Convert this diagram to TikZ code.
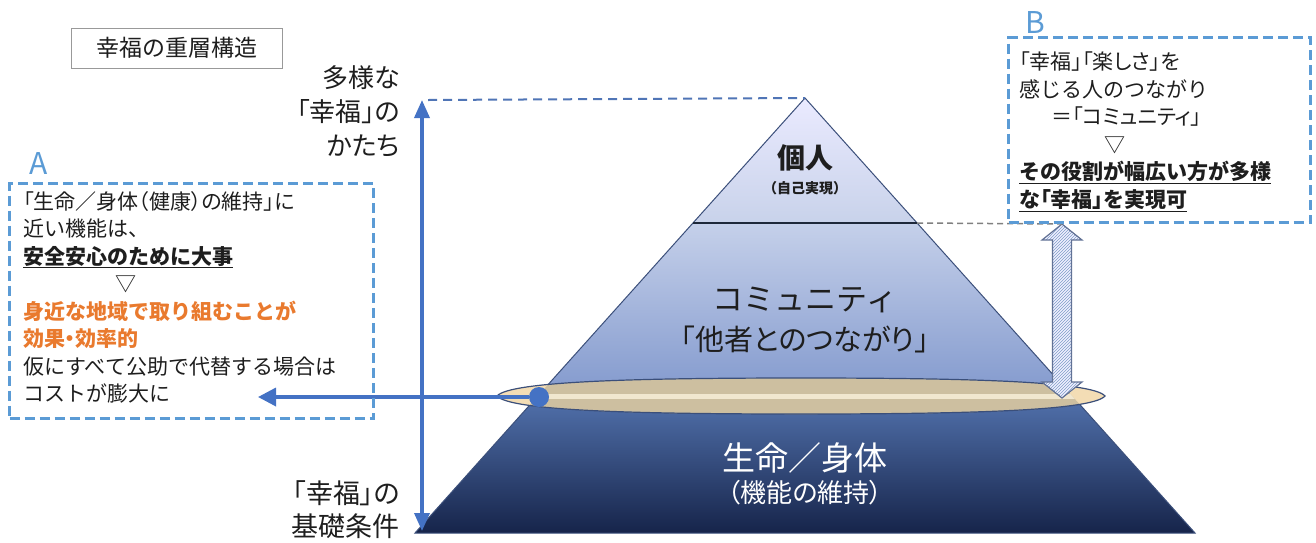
\documentclass[tikz,border=0pt]{standalone}
\usepackage{fontspec}
\setmainfont{Noto Sans CJK JP}
\newfontfamily\pfont[RawFeature=+palt]{Noto Sans CJK JP}
\usetikzlibrary{arrows.meta,patterns}
\definecolor{dashblue}{HTML}{5B9BD5}
\definecolor{arrblue}{HTML}{4472C4}
\definecolor{orangeT}{HTML}{E97A2E}
\definecolor{txt}{HTML}{1E1E1E}
\definecolor{pyrline}{HTML}{3B4F7A}
\definecolor{tanout}{HTML}{F3DDB5}
\definecolor{tanin}{HTML}{CDBFA0}
\definecolor{tanstripe}{HTML}{F1E7CF}
\definecolor{hatchc}{HTML}{7F9CC8}
\newcommand{\discpath}{(497,396) .. controls (510,381) and (640,378) .. (801,378) .. controls (962,378) and (1092,381) .. (1105,396) .. controls (1092,411) and (962,414) .. (801,414) .. controls (640,414) and (510,411) .. (497,396) -- cycle}
\begin{document}
\begin{tikzpicture}[x=1pt,y=-1pt,
  dbox/.style={draw=dashblue, line width=3pt, dash pattern=on 10pt off 5pt, inner sep=0pt, anchor=north west},
  boxtext/.style={anchor=north west, inner sep=0pt, align=left, text=txt, font=\fontsize{21}{27.5}\selectfont},
  sidelbl/.style={anchor=east, inner sep=0pt, align=right, text=txt, font=\pfont\fontsize{26}{34}\selectfont},
  letter/.style={text=dashblue, inner sep=0pt, font=\fontsize{30}{30}\selectfont},
  bluearrow/.style={draw=arrblue, line width=3.5pt},
  topdash/.style={draw=arrblue!80!gray, line width=2pt, dash pattern=on 9pt off 6pt},
  graydash/.style={draw=gray, line width=1.5pt, dash pattern=on 6pt off 4pt},
]
\useasboundingbox (0,0) rectangle (1316,542);

% coordinates of pyramid
\coordinate (apex) at (805,98);
\coordinate (sepL) at (693,223);
\coordinate (sepR) at (917,223);
\coordinate (elL) at (538,396);
\coordinate (elR) at (1072,396);
\coordinate (baseL) at (415,533);
\coordinate (baseR) at (1195,533);

% pyramid regions
\shade[top color=blue!8!white, bottom color={rgb,255:red,200;green,210;blue,234}] (apex) -- (sepR) -- (sepL) -- cycle;
\shade[top color={rgb,255:red,197;green,208;blue,234}, bottom color={rgb,255:red,130;green,153;blue,205}] (sepL) -- (sepR) -- (elR) -- (elL) -- cycle;
\shade[top color={rgb,255:red,82;green,114;blue,173}, bottom color={rgb,255:red,22;green,36;blue,74}] (elL) -- (elR) -- (baseR) -- (baseL) -- cycle;
\draw[pyrline, line width=1pt] (apex) -- (baseR) -- (baseL) -- cycle;
\draw[line width=2.5pt, color={rgb,255:red,30;green,40;blue,58}] (sepL) -- (sepR);

% disc
\fill[tanout] \discpath;
\begin{scope}
  \clip (apex) -- (baseR) -- (baseL) -- cycle;
  \fill[tanin] \discpath;
  \clip \discpath;
  \fill[tanstripe] (490,393.5) rectangle (1110,399);
\end{scope}
\draw[pyrline, line width=1.2pt] \discpath;

% pyramid texts
\node[text=txt, font=\fontsize{28}{28}\selectfont\bfseries] (kojin) at (805,158) {個人};
\node[text=txt, font=\fontsize{14}{14}\selectfont\bfseries] (jiko) at (805,188) {（自己実現）};
\node[text=txt, font=\fontsize{31}{31}\selectfont] (comm) at (805,300) {コミュニティ};
\node[text=txt, font=\pfont\fontsize{29}{29}\selectfont] (tasha) at (805,339) {「他者とのつながり」};
\node[text=white, font=\fontsize{33}{33}\selectfont] (seimei) at (805,458) {生命／身体};
\node[text=white, font=\pfont\fontsize{26}{26}\selectfont] (kinou) at (805,493) {（機能の維持）};

% vertical axis arrow and top dashed line
\coordinate (vTop) at (422,100);
\coordinate (vBot) at (422,531);
\draw[bluearrow, {Triangle[length=18pt,width=15pt]}-{Triangle[length=18pt,width=15pt]}] (vBot) -- (vTop);
\coordinate (dTop) at (428,100);
\draw[topdash] (dTop) -- (apex);

% hatched double arrow
\coordinate (hTop) at (1062,224);
\coordinate (hBot) at (1062,398);
\fill[blue!6!white] (1062,224) -- (1082,240) -- (1071.5,240) -- (1071.5,382) -- (1082,382) -- (1062,398) -- (1042,382) -- (1052.5,382) -- (1052.5,240) -- (1042,240) -- cycle;
\fill[pattern=north east lines, pattern color=hatchc] (1062,224) -- (1082,240) -- (1071.5,240) -- (1071.5,382) -- (1082,382) -- (1062,398) -- (1042,382) -- (1052.5,382) -- (1052.5,240) -- (1042,240) -- cycle;
\draw[pyrline!80!white, line width=1.2pt] (1062,224) -- (1082,240) -- (1071.5,240) -- (1071.5,382) -- (1082,382) -- (1062,398) -- (1042,382) -- (1052.5,382) -- (1052.5,240) -- (1042,240) -- cycle;
\draw[graydash] (sepR) -- (hTop);

% dot and arrow to box A
\node[circle, fill=arrblue, minimum size=20pt, inner sep=0pt] (dot) at (539,397) {};
\coordinate (aTip) at (258,397);
\draw[bluearrow, -{Triangle[length=18pt,width=18pt]}] (dot) -- (aTip);

% title
\node[draw=gray!80, line width=1pt, minimum width=211pt, minimum height=40pt, inner sep=0pt, text=txt, font=\fontsize{23}{23}\selectfont] (title) at (177,48) {幸福の重層構造};

% side labels
\node[sidelbl] (top1) at (400,111) {多様な\\「幸福」の\\かたち};
\node[sidelbl, font=\pfont\fontsize{27}{33}\selectfont] (bot1) at (400,510) {「幸福」の\\基礎条件};

% box A
\node[letter] (lA) at (39,163) {A};
\node[dbox, minimum width=364pt, minimum height=235pt] (boxA) at (8,182) {};
\node[boxtext] (textA) at (23,191) {{\pfont 「生命／身体（健康）の維持」に}\\
近い機能は、\\
\textbf{\underline{安全安心のために大事}}\\
\hspace*{92pt}▽\\
\textcolor{orangeT}{\bfseries 身近な地域で取り組むことが}\\
\textcolor{orangeT}{\bfseries 効果{\pfont ・}効率的}\\
仮にすべて公助で代替する場合は\\
コストが膨大に};

% box B
\node[letter] (lB) at (1035,22) {B};
\node[dbox, minimum width=302pt, minimum height=185pt] (boxB) at (1007,36) {};
\node[boxtext] (textB) at (1019,52) {{\pfont 「幸福」「楽しさ」を}\\
感じる人のつながり\\
\hspace*{32pt}＝{\pfont 「コミュニティ」}\\
\hspace*{85pt}▽\\
\textbf{\underline{その役割が幅広い方が多様}}\\
\textbf{\underline{な{\pfont 「幸福」}を実現可}}};

\end{tikzpicture}
\end{document}
